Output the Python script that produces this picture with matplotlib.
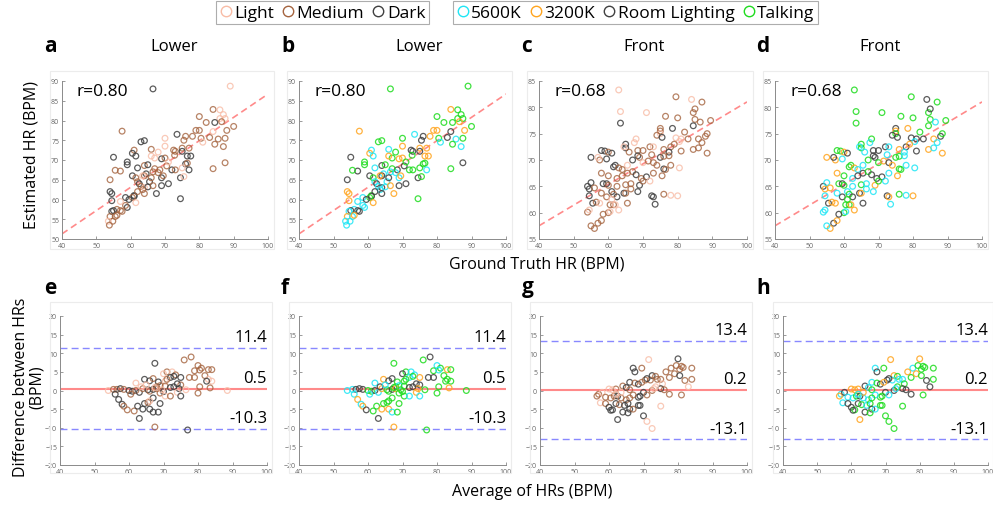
import matplotlib
matplotlib.use("Agg")
import matplotlib.pyplot as plt
from matplotlib.lines import Line2D
from matplotlib.patches import Rectangle

plt.rcParams['font.family'] = ['Open Sans', 'DejaVu Sans']

# ---------------- data ----------------
# Lower camera: ground truth vs estimated HR
lower_gt = [66.5,89.0,84.0,86.0,80.0,87.0,86.0,87.5,82.0,84.5, 86.5,80.0,79.0,90.0,88.0,84.0,83.0,85.5,87.5,87.0,
            84.5,80.5,81.0,76.0,73.5,78.0,84.0,87.5,57.5,63.0, 64.0,70.0,70.0,75.0,75.5,66.0,61.0,60.5,61.5,55.0,
            59.0,59.0,57.0,55.5,62.0,64.0,65.0,69.0,70.0,67.0, 66.0,68.0,72.5,73.0,72.8,75.0,77.0,76.5,77.5,76.0,
            76.5,77.0,75.0,74.5,75.5,72.0,73.0,70.5,71.0,68.5, 68.0,67.0,66.5,69.0,69.5,64.5,64.0,63.5,60.5,61.5,
            62.0,62.5,65.5,66.0,63.0,64.0,65.0,66.5,69.0,71.0, 67.5,63.5,64.0,61.0,61.0,60.5,58.5,59.5,62.0,59.0,
            58.5,61.5,54.0,54.5,54.5,54.0,57.0,56.0,57.0,57.5, 55.0,54.5,54.0,55.5,54.8,53.5,53.8,74.5,56.0]
lower_est = [88.0,88.7,82.8,82.7,81.0,81.5,80.5,80.5,79.5,79.5, 79.7,77.5,77.5,78.5,77.5,77.2,75.7,75.3,75.5,73.4,
             74.0,75.5,74.5,76.0,76.5,76.0,67.8,69.3,77.3,74.6, 74.9,75.5,73.5,73.0,75.0,72.7,72.5,71.7,71.0,70.7,
             69.5,68.8,67.2,67.4,68.0,68.6,68.8,70.3,70.5,70.5, 71.0,72.0,72.5,72.2,71.2,72.2,73.0,71.0,71.0,69.0,
             69.2,67.5,68.0,65.5,65.8,67.5,67.5,68.5,69.5,67.5, 66.8,67.8,67.0,65.5,66.0,66.5,66.0,66.0,66.0,65.5,
             64.5,64.0,64.5,65.5,63.3,63.0,63.2,63.5,63.5,64.0, 61.5,62.5,61.5,61.0,60.8,60.5,60.5,60.0,62.0,58.0,
             58.5,59.2,62.0,61.5,59.7,65.0,59.5,57.5,57.2,57.0, 57.2,57.0,55.7,55.7,54.5,54.5,53.5,60.2,56.0]
lower_skin = list("DLMLMLLLMD" "MMMMMLMMMM" "MMLMDMMMMD" "DLLMMMMDDD" "DDMMDMDDML"
                  "LLMMMDMDDD" "MDLDLDMMLM" "MMMDMDMLDM" "MDDMMLDMDD" "DMMDDMDDMD"
                  "MLDDDMLMMM" "DDMMMLMDM")
lower_cond = list("TTOTTTTTTT" "OOOTORRCTC" "TTCRCOTROT" "TTOORCCOCR" "TTRTCRTOOT"
                  "OTRRTROOOT" "TCTRTTTRTR" "CTCCOCRORT" "CRCRCRCORR" "OCRTRTCRRC"
                  "COOOORCCRR" "RCOCCCCTO")
lower_r = "r=0.80"
lower_fit = [0.59, 27.7]   # slope, intercept of dashed fit line

# Front camera
front_gt = [63.0,79.5,84.0,87.0,63.5,71.0,84.5,85.0,63.5,80.0, 76.5,85.0,86.5,89.5,84.5,78.5,75.0,75.0,75.0,68.0,
            82.0,74.0,75.5,81.0,79.5,80.5,86.0,88.0,88.5,87.0, 83.0,65.0,65.0,64.5,67.5,58.0,59.0,60.0,61.0,57.5,
            59.5,55.0,57.0,66.0,68.5,70.0,72.0,73.0,76.0,78.0, 79.0,72.5,75.0,76.0,77.5,77.5,81.0,84.5,86.0,88.5,
            61.5,62.0,63.0,65.5,64.0,67.0,68.5,69.0,70.0,71.5, 73.0,74.0,76.0,76.5,78.0,80.5,58.0,60.0,62.5,64.0,
            65.5,67.0,68.0,69.5,71.0,73.0,75.5,54.0,54.5,55.0, 56.0,58.5,59.5,60.0,62.5,65.0,66.5,69.0,70.0,72.0,
            54.5,55.5,56.5,58.0,59.5,61.0,61.5,62.5,64.5,65.0, 66.5,68.5,72.5,73.0,76.0,78.0,80.0,73.5,54.0,54.5,
            57.5,60.5,61.5,62.0,60.0,60.5,63.0,65.5,57.0,58.0, 58.5,56.0,55.0,61.0]
front_est = [83.3,82.0,81.5,81.0,79.2,79.0,79.0,79.7,77.0,78.0, 78.3,77.7,77.2,77.5,76.5,76.0,76.0,75.5,75.0,74.0,
             75.3,74.7,74.3,74.0,74.2,73.5,74.0,74.5,75.0,73.3, 74.0,73.0,72.3,72.5,73.3,71.8,71.7,71.5,71.3,70.0,
             70.2,70.5,70.5,71.5,71.8,71.8,72.5,72.5,72.0,72.5, 73.0,71.0,70.5,70.7,71.5,70.8,71.7,72.0,72.3,71.3,
             68.7,69.0,68.5,69.0,68.2,70.0,70.8,70.5,69.5,69.8, 69.5,69.0,68.3,68.2,69.0,68.5,67.5,67.0,66.5,67.0,
             67.5,67.8,67.2,66.5,66.8,67.5,67.0,65.0,64.5,65.7, 64.7,65.5,65.5,65.2,65.0,65.3,65.5,65.2,66.0,66.0,
             63.2,61.8,62.0,63.7,63.0,64.0,63.5,63.0,63.7,63.7, 64.5,64.0,63.2,63.0,63.5,63.3,63.2,61.6,60.1,60.5,
             61.8,61.5,61.5,61.5,60.0,60.2,60.5,61.8,58.0,58.5, 59.7,57.0,57.5,62.5]
front_skin = list("LMLMLLMMDM" "MMMMDDMMLL" "MMDLLLMMMM" "MDDLLDDMDM" "DDLMMMMLMM"
                  "MMDMDMMMMM" "DDMLMDDMLM" "MMDMMLMMMM" "MMDMDMMDDD" "MDDMMMMDML"
                  "DDMMMDMDDM" "MDDDMLLDML" "LMMLMLLMMM" "MMML")
front_cond = list("TTRTTTTRTT" "TTCTTOROTT" "TRRRRCORTC" "RTTCCTTORO" "CORCRRRCOR"
                  "OCTTCCROCO" "TTOCCTRRTO" "ROTTCCOTCR" "RTRRRCOROC" "OTRTCTCOTC"
                  "CROCRCTRRO" "CCROTCOCCC" "OTTOTCORRO" "ROCT")
front_r = "r=0.68"
front_fit = [0.392, 41.83]

# Bland-Altman, lower camera
lower_ba_avg = [67.5,76.0,78.0,80.0,81.0,79.0,80.5,83.0,84.0,82.0, 83.0,84.0,82.5,79.0,77.5,80.5,83.5,71.0,72.5,73.5,
                70.0,72.0,73.0,75.0,64.5,66.0,67.0,68.5,70.5,71.0, 75.0,74.0,74.5,68.0,69.0,70.5,72.0,73.0,54.0,55.5,
                56.5,57.5,58.5,60.0,61.0,62.0,63.0,64.0,65.5,66.0, 67.0,68.0,69.0,70.0,74.0,75.0,76.5,88.5,56.0,57.0,
                58.0,58.5,59.5,60.5,61.5,62.5,63.0,64.0,64.5,65.5, 66.0,67.0,68.5,69.0,67.0,66.0,70.5,72.0,80.0,67.5,
                77.0,62.0,63.5,65.0,67.5,69.5]
lower_ba_diff = [7.3,8.2,9.0,6.7,6.0,5.3,5.5,5.6,5.6,4.0, 3.0,2.5,2.5,3.5,3.5,1.0,0.7,5.0,5.0,4.2,
                 4.5,3.5,3.8,3.5,3.0,2.6,3.2,2.3,2.5,3.0, 1.5,1.8,0.5,1.0,1.3,1.2,0.8,1.0,0.0,0.3,
                 0.3,0.5,0.3,0.0,-0.2,0.0,-0.5,0.5,0.2,-0.2, 0.3,0.5,-0.7,-0.3,-0.5,-1.5,0.2,0.0,-1.0,-2.4,
                 -3.7,-4.2,-5.2,-1.0,-5.5,-4.2,-7.5,-5.0,-3.5,-3.2, -5.0,-5.8,-5.8,-3.5,-2.0,-2.8,-1.5,-1.5,-0.7,-9.8,
                 -10.6,2.0,1.0,1.5,0.8,0.2]
lower_ba_skin = list("DMMMMMMMMM" "LLDMMMMMLM" "LDDDDDMDLM" "MDDMMMDDLM" "MDMDDMDMDM"
                     "DMMDLDLLDD" "DMMMMDDDDM" "DDDDDLLMMM" "DLLLLL")
lower_ba_cond = list("TTRCTTCOTT" "TTTRRTOTCC" "RCTOORRTTT" "RROTCTRRCC" "RRRTTRCOTT"
                     "ROTTOCTTCO" "CORCTTROTT" "OCTTTTTCTO" "TCRCTT")
lower_ba_lines = [11.4, 0.5, -10.3]   # upper LoA, mean, lower LoA

# Bland-Altman, front camera
front_ba_avg = [71.5,80.0,78.0,79.5,81.0,80.5,81.5,84.0,67.0,67.5, 69.5,76.5,77.5,79.0,82.0,84.0,83.0,80.5,81.0,72.5,
                73.5,72.0,74.0,70.5,71.0,75.0,75.5,66.0,67.5,68.5, 69.5,64.0,65.0,66.0,62.0,61.0,60.0,75.0,76.0,72.5,
                73.5,70.0,69.0,68.5,71.0,67.0,57.0,56.5,58.0,59.0, 60.5,61.5,62.5,63.5,65.0,66.0,57.5,59.0,60.0,61.0,
                60.5,62.0,63.0,64.5,65.5,66.0,64.0,65.5,67.0,68.5, 69.0,70.0,62.5,71.0,72.5,75.0,77.5,73.0,63.5,62.0]
front_ba_diff = [8.3,8.5,6.0,6.7,6.5,5.7,6.2,6.0,6.0,5.0, 6.0,5.0,3.5,4.5,2.7,3.0,1.0,4.0,-1.2,4.0,
                 3.8,2.8,3.0,2.8,3.2,3.0,1.8,2.2,2.0,1.7, 2.2,1.2,0.8,0.2,0.4,0.2,0.4,0.5,0.2,0.0,
                 1.0,-0.5,-1.5,-1.8,-1.2,-1.2,-1.0,-1.5,-0.5,-1.8, -2.0,-1.5,-1.5,-2.0,-2.5,-2.0,-3.3,-3.5,-4.5,-5.2,
                 -5.3,-3.5,-3.8,-4.0,-3.5,-5.0,-5.8,-6.0,-5.0,-4.0, -4.0,-6.8,-7.8,-8.3,-10.2,-4.2,-1.0,0.5,-0.5,-1.0]
front_ba_skin = list("LDMMMMMMDD" "MMMMMMLDMD" "MMMMDMLDMD" "MMDMMLLDMM" "LDDDMMMMLM"
                     "MMDMMMLMDD" "DDMDDDDDMD" "DDDLLLMLLL")
front_ba_cond = list("OOCTTTTTCR" "TOTORTRTTO" "TCCRRCTCTR" "ORCTOOORRR" "TRTTCCCORC"
                     "CTRCCTCRRT" "RRTCTRRTCT" "TTOTTTRCOC")
front_ba_lines = [13.4, 0.2, -13.1]

skin_labels = ["Light", "Medium", "Dark"]
cond_labels = ["5600K", "3200K", "Room Lighting", "Talking"]

# ---------------- styling ----------------
skin_colors = {"L": "#f8bca6", "M": "#a5643f", "D": "#404040"}
cond_colors = {"C": "#1fe6f5", "O": "#ffa51f", "R": "#404040", "T": "#1fdc1f"}
skin_alpha = {"L": 0.8, "M": 0.8, "D": 0.85}

W, H = 993, 506
fig = plt.figure(figsize=(W / 100, H / 100), dpi=100)
fig.patch.set_facecolor("white")


def px_axes(x0, x1, yt, yb):
    return fig.add_axes([x0 / W, 1 - yb / H, (x1 - x0) / W, (yb - yt) / H])


def frame(x0, x1, yt, yb):
    fig.patches.append(Rectangle((x0 / W, 1 - yb / H), (x1 - x0) / W, (yb - yt) / H,
                                 transform=fig.transFigure, fill=False,
                                 edgecolor="#ececec", lw=0.8, zorder=0))


def style(ax, ylim, yticks):
    ax.set_xlim(40, 100)
    ax.set_ylim(*ylim)
    ax.set_xticks(range(40, 101, 10))
    ax.set_yticks(yticks)
    for s in ["top", "right"]:
        ax.spines[s].set_visible(False)
    for s in ["left", "bottom"]:
        ax.spines[s].set_color("#8a8a8a")
        ax.spines[s].set_linewidth(0.7)
    ax.tick_params(direction="in", length=2.5, width=0.6, colors="#8a8a8a",
                   labelsize=5, labelcolor="#666666", pad=2)
    ax.patch.set_alpha(0)


def draw_points(ax, xs, ys, codes, cmap):
    cols = []
    for c in codes:
        a = skin_alpha.get(c, 0.8) if cmap is skin_colors else 0.85
        cols.append(matplotlib.colors.to_rgba(cmap[c], a))
    ax.scatter(xs, ys, s=17, facecolors="none", edgecolors=cols, linewidths=0.9, zorder=3)


rows1 = [(62, 268), (299, 506), (539, 747), (775, 982)]
rows2 = [(60, 267), (299, 506), (540, 747), (783, 988)]
letter_x1 = [50, 288, 527, 763]
letter_x2 = [50, 285, 528, 763]
titles = ["Lower", "Lower", "Front", "Front"]
title_x = [174, 419, 644, 880]

sc_sets = [
    (lower_gt, lower_est, lower_skin, skin_colors, lower_r, lower_fit, (50, 90), range(50, 91, 5)),
    (lower_gt, lower_est, lower_cond, cond_colors, lower_r, lower_fit, (50, 90), range(50, 91, 5)),
    (front_gt, front_est, front_skin, skin_colors, front_r, front_fit, (55, 85), range(55, 86, 5)),
    (front_gt, front_est, front_cond, cond_colors, front_r, front_fit, (55, 85), range(55, 86, 5)),
]
ba_sets = [
    (lower_ba_avg, lower_ba_diff, lower_ba_skin, skin_colors, lower_ba_lines),
    (lower_ba_avg, lower_ba_diff, lower_ba_cond, cond_colors, lower_ba_lines),
    (front_ba_avg, front_ba_diff, front_ba_skin, skin_colors, front_ba_lines),
    (front_ba_avg, front_ba_diff, front_ba_cond, cond_colors, front_ba_lines),
]

for i, ((x0, x1), (xs, ys, codes, cmap, rtxt, fit, ylim, yt)) in enumerate(zip(rows1, sc_sets)):
    frame(x0 - 12, x1 + 6, 72, 250)
    ax = px_axes(x0, x1, 82, 240)
    style(ax, ylim, list(yt))
    xl = [40, 100]
    ax.plot(xl, [fit[0] * v + fit[1] for v in xl], color="#ff8a8a", lw=1.2,
            dashes=(4, 2.5), zorder=2)
    draw_points(ax, xs, ys, codes, cmap)
    fig.text((x0 + 15) / W, 1 - 92.5 / H, rtxt, fontsize=12.5, ha="left", va="center")
    fig.text(letter_x1[i] / W, 1 - 47 / H, "abcd"[i], fontsize=15, fontweight="bold",
             ha="center", va="center")
    fig.text(title_x[i] / W, 1 - 47 / H, titles[i], fontsize=12, ha="center", va="center")

for i, ((x0, x1), (xs, ys, codes, cmap, lines)) in enumerate(zip(rows2, ba_sets)):
    frame(x0 - 10, x1 + 5, 303, 474)
    ax = px_axes(x0, x1, 317, 466)
    style(ax, (-20, 20), list(range(-20, 21, 5)))
    ax.axhline(lines[0], color="#8888ff", lw=1.0, dashes=(5, 3), zorder=2)
    ax.axhline(lines[2], color="#8888ff", lw=1.0, dashes=(5, 3), zorder=2)
    ax.axhline(lines[1], color="#ff8a8a", lw=1.5, zorder=2)
    draw_points(ax, xs, ys, codes, cmap)
    for v in lines:
        ax.annotate(f"{v:.1f}", xy=(100, v), xytext=(0, 2), textcoords="offset points",
                    ha="right", va="bottom", fontsize=12)
    fig.text(letter_x2[i] / W, 1 - 288 / H, "efgh"[i], fontsize=15, fontweight="bold",
             ha="center", va="center")

fig.text(32 / W, 1 - 155 / H, "Estimated HR (BPM)", rotation=90, fontsize=11.5,
         ha="center", va="center")
fig.text(537 / W, 1 - 265 / H, "Ground Truth HR (BPM)", fontsize=11.5, ha="center", va="center")
fig.text(29 / W, 1 - 387 / H, "Difference between HRs\n(BPM)", rotation=90, fontsize=11.5,
         ha="center", va="center", linespacing=1.0)
fig.text(532 / W, 1 - 492 / H, "Average of HRs (BPM)", fontsize=11.5, ha="center", va="center")

# legends
def handles(keys, cmap, labels):
    return [Line2D([], [], marker="o", ls="none", mfc="none", mec=cmap[k], mew=1.0, ms=7.5, label=l)
            for k, l in zip(keys, labels)]

leg_kw = dict(frameon=True, fancybox=False, edgecolor="#999999", fontsize=12.5,
              handlelength=0.7, handletextpad=0.15, columnspacing=0.45, borderpad=0.2,
              borderaxespad=0, loc="upper left")
l1 = fig.legend(handles=handles("LMD", skin_colors, skin_labels), ncol=3,
                bbox_to_anchor=(216 / W, 1 - 2 / H), **leg_kw)
l1.get_frame().set_linewidth(0.8)
l2 = fig.legend(handles=handles("CORT", cond_colors, cond_labels), ncol=4,
                bbox_to_anchor=(453 / W, 1 - 2 / H), **leg_kw)
l2.get_frame().set_linewidth(0.8)

fig.savefig("out.png", dpi=100, facecolor="white")
